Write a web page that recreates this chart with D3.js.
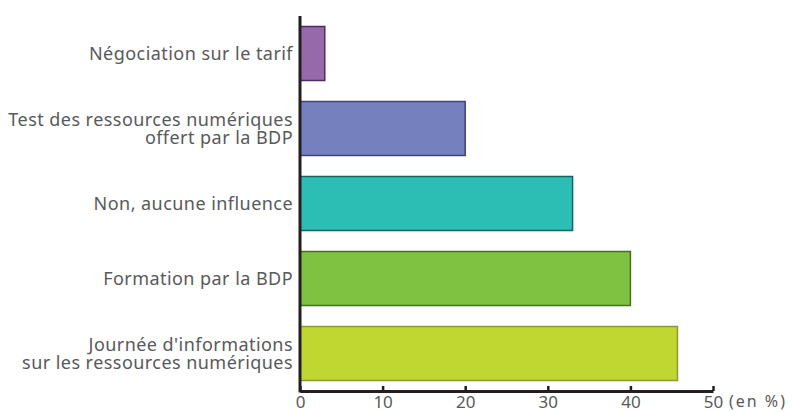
<!DOCTYPE html>
<html>
<head>
<meta charset="utf-8">
<script src="https://cdn.jsdelivr.net/npm/d3@7"></script>
<style>
  body { margin: 0; background: #fff; }
  text { font-family: "Noto Sans", sans-serif; fill: #58595b; }
</style>
</head>
<body>
<div id="chart"></div>
<script>
var categories = [
  ["Négociation sur le tarif"],
  ["Test des ressources numériques", "offert par la BDP"],
  ["Non, aucune influence"],
  ["Formation par la BDP"],
  ["Journée d'informations", "sur les ressources numériques"]
];
var values = [3, 20, 33, 40, 45.7];
var fills = ["#9669ab", "#7580bf", "#2cbeb5", "#7fc242", "#bfd730"];
var strokes = ["#4e2c62", "#3e4377", "#18645e", "#44701f", "#8a9a3a"];
var ticks = [0, 10, 20, 30, 40, 50];

var width = 795, height = 412;
var margin = {top: 16, right: 82, bottom: 21, left: 300};

var svg = d3.select("#chart").append("svg")
    .attr("width", width)
    .attr("height", height);

var x = d3.scaleLinear()
    .domain([0, 50])
    .range([margin.left, width - margin.right]);

var y = d3.scaleBand()
    .domain(d3.range(categories.length))
    .range([margin.top, height - margin.bottom])
    .paddingInner(0.28)
    .paddingOuter(0.14);

// bars
svg.selectAll("rect.bar")
    .data(values)
    .enter().append("rect")
    .attr("class", "bar")
    .attr("x", x(0))
    .attr("y", function(d, i) { return y(i); })
    .attr("width", function(d) { return x(d) - x(0); })
    .attr("height", y.bandwidth())
    .attr("fill", function(d, i) { return fills[i]; })
    .attr("stroke", function(d, i) { return strokes[i]; })
    .attr("stroke-width", 1.5);

// x axis
var xAxis = svg.append("g")
    .attr("transform", "translate(0," + (height - margin.bottom) + ")")
    .call(d3.axisBottom(x).tickValues(ticks).tickSize(-5).tickPadding(5).tickSizeOuter(0));
xAxis.select(".domain").attr("stroke", "#231f20").attr("stroke-width", 3);
xAxis.selectAll(".tick line").attr("stroke", "#231f20").attr("stroke-width", 2.5);
xAxis.selectAll(".tick text")
    .style("font-size", "17px")
    .attr("fill", "#58595b");

svg.append("text")
    .attr("x", x(50) + 16)
    .attr("y", height - margin.bottom + 5)
    .attr("dy", "0.71em")
    .style("font-size", "16px")
    .style("letter-spacing", "2px")
    .text("(en %)");

// y axis line
svg.append("line")
    .attr("x1", x(0)).attr("x2", x(0))
    .attr("y1", margin.top).attr("y2", height - margin.bottom + 1.5)
    .attr("stroke", "#231f20")
    .attr("stroke-width", 3);

// category labels
var labels = svg.selectAll("text.cat")
    .data(categories)
    .enter().append("text")
    .attr("class", "cat")
    .attr("text-anchor", "end")
    .attr("x", x(0) - 7)
    .attr("y", function(d, i) { return y(i) + y.bandwidth() / 2; })
    .style("font-size", "18px")
    .style("letter-spacing", "0.45px");

labels.selectAll("tspan")
    .data(function(d) { return d.map(function(t, j) { return {t: t, j: j, n: d.length}; }); })
    .enter().append("tspan")
    .attr("x", x(0) - 7)
    .attr("dy", function(d) {
      if (d.j === 0) return (0.35 - (d.n - 1) * 0.5) + "em";
      return "1em";
    })
    .text(function(d) { return d.t; });
</script>
</body>
</html>
